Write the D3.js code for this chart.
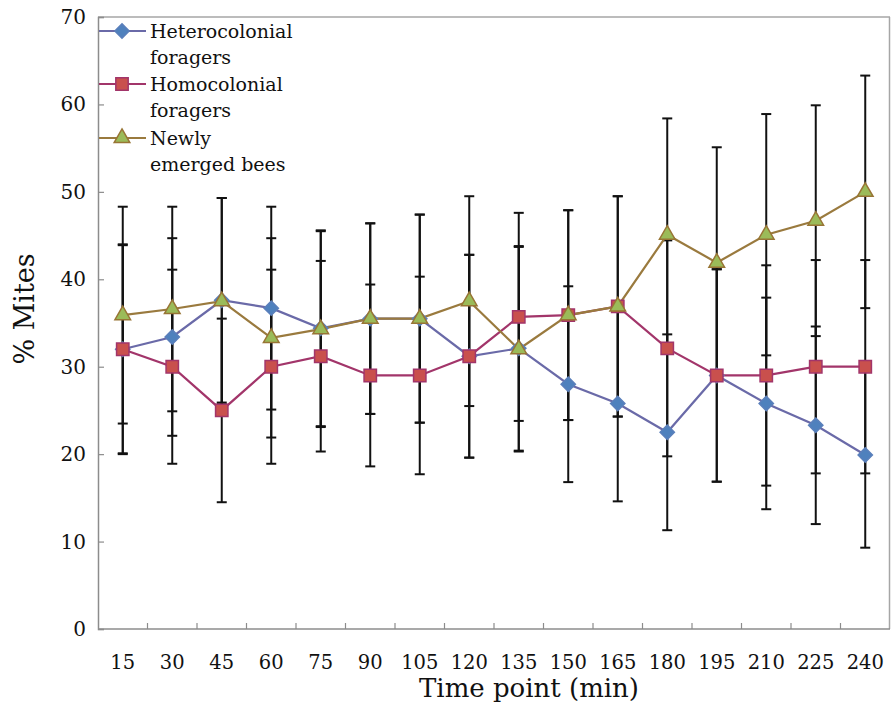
<!DOCTYPE html>
<html>
<head>
<meta charset="utf-8">
<script src="https://cdn.jsdelivr.net/npm/d3@7"></script>
<style>
  body { margin: 0; background: #fff; }
</style>
</head>
<body>
<div id="chart"></div>
<script>
const timePoints = ["15", "30", "45", "60", "75", "90", "105", "120", "135", "150", "165", "180", "195", "210", "225", "240"];

const heteroMean = [32.0, 33.4, 37.6, 36.7, 34.4, 35.5, 35.5, 31.2, 32.1, 28.0, 25.8, 22.5, 29.0, 25.8, 23.3, 19.9];
const heteroErr  = [11.9, 11.3, 11.7, 11.6, 11.2, 10.9, 11.9, 11.6, 11.7, 11.2, 11.2, 11.2, 12.15, 12.1, 11.3, 10.6];

const homoMean = [32.0, 30.0, 25.0, 30.0, 31.2, 29.0, 29.0, 31.2, 35.7, 35.9, 36.9, 32.1, 29.0, 29.0, 30.0, 30.0];
const homoErr  = [12.0, 11.1, 10.5, 11.1, 10.9, 10.4, 11.3, 11.6, 11.9, 12.0, 12.6, 12.35, 12.15, 12.6, 12.2, 12.2];

const newlyMean = [35.9, 36.6, 37.5, 33.3, 34.3, 35.5, 35.5, 37.5, 32.0, 35.9, 36.9, 45.1, 41.9, 45.1, 46.7, 50.0];
const newlyErr  = [12.4, 11.7, 11.8, 11.4, 11.2, 10.9, 11.9, 12.0, 11.7, 12.0, 12.6, 13.3, 13.2, 13.8, 13.2, 13.3];

const yTicks = [0, 10, 20, 30, 40, 50, 60, 70];

const series = [
  { name: ["Heterocolonial", "foragers"], mean: heteroMean, err: heteroErr,
    line: "#6a6aa8", fill: "#4f81bd", stroke: "#5a7fbb", shape: d3.symbolDiamond2, size: 130 },
  { name: ["Homocolonial", "foragers"], mean: homoMean, err: homoErr,
    line: "#a2356a", fill: "#c9504d", stroke: "#a2356a", shape: d3.symbolSquare2, size: 195 },
  { name: ["Newly", "emerged bees"], mean: newlyMean, err: newlyErr,
    line: "#9a7a3e", fill: "#9bbb59", stroke: "#987535", shape: d3.symbolTriangle2, size: 175 }
];

const W = 891, H = 706;
const margin = { top: 17, right: 1, bottom: 77, left: 98 };
const width = W - margin.left - margin.right;
const height = H - margin.top - margin.bottom;
const FONT = "DejaVu Serif";

const svg = d3.select("#chart").append("svg")
  .attr("width", W).attr("height", H)
  .style("font-family", FONT);

const g = svg.append("g")
  .attr("transform", `translate(${margin.left},${margin.top})`);

const x = d3.scaleBand().domain(timePoints).range([0, width]);
const y = d3.scaleLinear().domain([0, 70]).range([height, 0]);
const cx = i => x(timePoints[i]) + x.bandwidth() / 2;

// frame top and right
g.append("line").attr("x1", 0).attr("x2", width).attr("y1", 0).attr("y2", 0)
  .attr("stroke", "#a6a6a6").attr("stroke-width", 1.5);
g.append("line").attr("x1", width - 0.5).attr("x2", width - 0.5).attr("y1", 0).attr("y2", height)
  .attr("stroke", "#a6a6a6").attr("stroke-width", 1.5);

// y axis
const yAxis = g.append("g")
  .call(d3.axisRight(y).tickValues(yTicks).tickSize(6).tickFormat(""));
yAxis.select(".domain").attr("stroke", "#8c8c8c").attr("stroke-width", 1.5);
yAxis.selectAll(".tick line").attr("stroke", "#8c8c8c").attr("stroke-width", 1.2);

g.append("g").selectAll("text")
  .data(yTicks)
  .join("text")
    .attr("x", -12)
    .attr("y", d => y(d))
    .attr("dy", "0.35em")
    .attr("text-anchor", "end")
    .attr("font-size", 20)
    .attr("fill", "#111")
    .text(d => d);

// x axis with ticks between categories
const xAxis = g.append("g").attr("transform", `translate(0,${height})`);
xAxis.append("line").attr("x1", 0).attr("x2", width).attr("stroke", "#8c8c8c").attr("stroke-width", 1.5);
xAxis.selectAll(".sep")
  .data(timePoints.slice(1))
  .join("line")
    .attr("class", "sep")
    .attr("x1", d => x(d)).attr("x2", d => x(d))
    .attr("y1", 0).attr("y2", -6)
    .attr("stroke", "#8c8c8c").attr("stroke-width", 1.2);
xAxis.selectAll(".lab")
  .data(timePoints)
  .join("text")
    .attr("class", "lab")
    .attr("x", d => x(d) + x.bandwidth() / 2)
    .attr("y", 40)
    .attr("text-anchor", "middle")
    .attr("font-size", 19.5)
    .attr("fill", "#111")
    .text(d => d);

// axis titles
svg.append("text")
  .attr("x", 529)
  .attr("y", 697)
  .attr("text-anchor", "middle")
  .attr("font-size", 26)
  .attr("fill", "#111")
  .text("Time point (min)");

svg.append("text")
  .attr("transform", "translate(34,309) rotate(-90)")
  .attr("text-anchor", "middle")
  .attr("font-size", 27)
  .attr("fill", "#111")
  .text("% Mites");

// error bars
const errG = g.append("g");
series.forEach(s => {
  s.mean.forEach((m, i) => {
    const px = cx(i);
    errG.append("line")
      .attr("x1", px).attr("x2", px)
      .attr("y1", y(m + s.err[i])).attr("y2", y(m - s.err[i]))
      .attr("stroke", "#111").attr("stroke-width", 2);
    [m + s.err[i], m - s.err[i]].forEach(v => {
      errG.append("line")
        .attr("x1", px - 5).attr("x2", px + 5)
        .attr("y1", y(v)).attr("y2", y(v))
        .attr("stroke", "#111").attr("stroke-width", 2);
    });
  });
});

// lines
const line = d3.line().x((d, i) => cx(i)).y(d => y(d));
series.forEach(s => {
  g.append("path")
    .datum(s.mean)
    .attr("fill", "none")
    .attr("stroke", s.line)
    .attr("stroke-width", 2.2)
    .attr("d", line);
});

// markers
series.forEach(s => {
  g.append("g").selectAll("path")
    .data(s.mean)
    .join("path")
      .attr("transform", (d, i) => `translate(${cx(i)},${y(d)})`)
      .attr("d", d3.symbol(s.shape, s.size))
      .attr("fill", s.fill)
      .attr("stroke", s.stroke)
      .attr("stroke-width", 1.5);
});

// legend
const legend = svg.append("g");
series.forEach((s, k) => {
  const ly = [31, 84, 138][k];
  legend.append("line")
    .attr("x1", 99).attr("x2", 146).attr("y1", ly).attr("y2", ly)
    .attr("stroke", s.line).attr("stroke-width", 2.2);
  legend.append("path")
    .attr("transform", `translate(122,${ly})`)
    .attr("d", d3.symbol(s.shape, s.size))
    .attr("fill", s.fill)
    .attr("stroke", s.stroke)
    .attr("stroke-width", 1.5);
  s.name.forEach((t, j) => {
    legend.append("text")
      .attr("x", 150)
      .attr("y", ly + j * 26)
      .attr("dy", "0.35em")
      .attr("font-size", 19)
      .attr("fill", "#111")
      .text(t);
  });
});
</script>
</body>
</html>
